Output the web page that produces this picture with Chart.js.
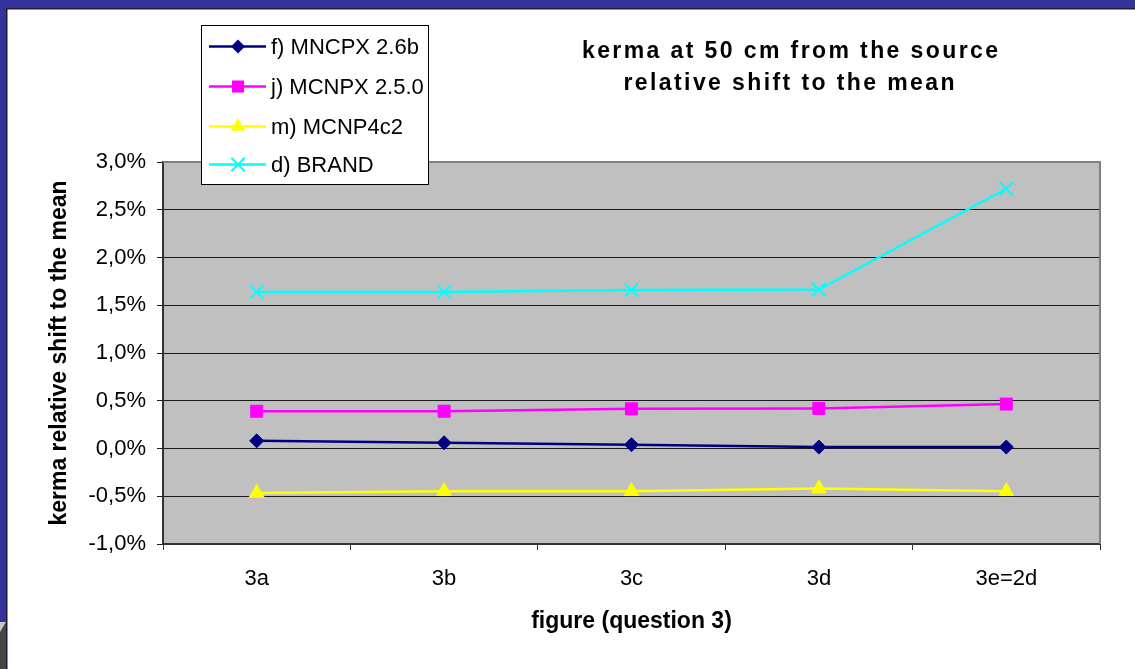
<!DOCTYPE html>
<html><head><meta charset="utf-8">
<script src="https://cdn.jsdelivr.net/npm/chart.js@4.4.0/dist/chart.umd.min.js"></script>
<style>html,body{margin:0;padding:0;background:#fff;} #wrap{position:relative;width:1135px;height:669px;} canvas{display:block;}</style>
</head><body><div id="wrap"><canvas id="c" width="1135" height="669"></canvas></div>
<script>
const categories = ['3a', '3b', '3c', '3d', '3e=2d'];
const mncpx26b = [0.08, 0.06, 0.04, 0.015, 0.015];
const mcnpx250 = [0.39, 0.39, 0.415, 0.42, 0.465];
const mcnp4c2 = [-0.465, -0.448, -0.448, -0.42, -0.448];
const brand = [1.64, 1.64, 1.66, 1.665, 2.72];
const seriesNames = ['f) MNCPX 2.6b', 'j) MCNPX 2.5.0', 'm) MCNP4c2', 'd) BRAND'];
const titleLines = ['kerma at 50 cm from the source', 'relative shift to the mean'];
const yTitle = 'kerma relative shift to the mean';
const xTitle = 'figure (question 3)';
const yMin = -1, yMax = 3, yStep = 0.5;

const F = "'Liberation Sans', Arial, sans-serif";

function drawMarker(ctx, style, r, x, y, color, bw) {
  ctx.save();
  ctx.fillStyle = color; ctx.strokeStyle = color; ctx.lineWidth = bw;
  ctx.beginPath();
  if (style === 'rectRot') {
    ctx.moveTo(x, y - r); ctx.lineTo(x + r, y); ctx.lineTo(x, y + r); ctx.lineTo(x - r, y); ctx.closePath(); ctx.fill();
  } else if (style === 'rect') {
    const s = r * Math.SQRT1_2; ctx.rect(x - s, y - s, 2 * s, 2 * s); ctx.fill();
  } else if (style === 'triangle') {
    ctx.moveTo(x, y - r); ctx.lineTo(x + r * Math.cos(Math.PI / 6), y + r / 2); ctx.lineTo(x - r * Math.cos(Math.PI / 6), y + r / 2); ctx.closePath(); ctx.fill();
  } else if (style === 'crossRot') {
    const o = r * Math.SQRT1_2;
    ctx.moveTo(x - o, y - o); ctx.lineTo(x + o, y + o); ctx.moveTo(x + o, y - o); ctx.lineTo(x - o, y + o); ctx.stroke();
  }
  ctx.restore();
}

const framePlugin = {
  id: 'frame',
  beforeDraw(chart) {
    const ctx = chart.ctx, a = chart.chartArea;
    ctx.save();
    ctx.fillStyle = '#ffffff'; ctx.fillRect(0, 0, chart.width, chart.height);
    ctx.fillStyle = '#333399';
    ctx.fillRect(0, 0, chart.width, 8);
    ctx.fillRect(0, 0, 6, chart.height);
    ctx.fillStyle = '#1c1c3a';
    ctx.fillRect(6, 8, chart.width - 6, 1.5);
    ctx.fillRect(6, 8, 1.5, chart.height - 8);
    ctx.fillStyle = '#454545';
    ctx.fillRect(0, 626, 6, chart.height - 626);
    ctx.fillStyle = '#c8c8c8';
    ctx.beginPath(); ctx.moveTo(0, 622); ctx.lineTo(6, 622); ctx.lineTo(0, 632); ctx.closePath(); ctx.fill();
    ctx.fillStyle = '#c0c0c0';
    ctx.fillRect(a.left, a.top, a.right - a.left, a.bottom - a.top);
    ctx.restore();
  },
  beforeDatasetsDraw(chart) {
    const ctx = chart.ctx, a = chart.chartArea;
    ctx.save();
    ctx.strokeStyle = '#808080'; ctx.lineWidth = 2;
    ctx.beginPath();
    ctx.moveTo(a.left, a.top); ctx.lineTo(a.right, a.top); ctx.lineTo(a.right, a.bottom);
    ctx.stroke();
    ctx.restore();
  },
  afterDraw(chart) {
    const ctx = chart.ctx;
    ctx.save();
    // title
    ctx.fillStyle = '#000';
    ctx.font = "bold 23px " + F;
    ctx.textAlign = 'center'; ctx.textBaseline = 'alphabetic';
    const ls = 2.4;
    if ('letterSpacing' in ctx) ctx.letterSpacing = ls + 'px';
    ctx.fillText(titleLines[0], 790 + ls / 2, 58);
    ctx.fillText(titleLines[1], 789 + ls / 2, 90);
    if ('letterSpacing' in ctx) ctx.letterSpacing = '0px';
    // legend
    ctx.fillStyle = '#fff';
    ctx.fillRect(201, 25, 227, 159);
    ctx.strokeStyle = '#000'; ctx.lineWidth = 1;
    ctx.strokeRect(201.5, 25.5, 227, 159);
    const rows = [46.5, 86.5, 126.5, 164.5];
    chart.data.datasets.forEach((ds, i) => {
      const y = rows[i];
      ctx.strokeStyle = ds.borderColor; ctx.lineWidth = ds.borderWidth;
      ctx.beginPath(); ctx.moveTo(209, y); ctx.lineTo(266, y); ctx.stroke();
      drawMarker(ctx, ds.pointStyle, ds.pointRadius, 238, y, ds.pointBackgroundColor, ds.pointBorderWidth);
      ctx.fillStyle = '#000';
      ctx.font = "22px " + F;
      ctx.textAlign = 'left'; ctx.textBaseline = 'middle';
      ctx.fillText(ds.label, 271, y + 1);
    });
    ctx.restore();
  }
};

const mk = (label, data, color, style, r, pbw) => ({
  label, data,
  borderColor: color, backgroundColor: color,
  borderWidth: 2.5,
  pointStyle: style, pointRadius: r, pointHoverRadius: r,
  pointBackgroundColor: color, pointBorderColor: color, pointBorderWidth: pbw,
  tension: 0, fill: false
});

new Chart(document.getElementById('c'), {
  type: 'line',
  data: {
    labels: categories,
    datasets: [
      mk(seriesNames[0], mncpx26b, '#000080', 'rectRot', 7, 1),
      mk(seriesNames[1], mcnpx250, '#ff00ff', 'rect', 8.5, 1),
      mk(seriesNames[2], mcnp4c2, '#ffff00', 'triangle', 8.5, 1),
      mk(seriesNames[3], brand, '#00ffff', 'crossRot', 9.5, 2)
    ]
  },
  options: {
    responsive: false,
    animation: false,
    layout: { padding: { left: 42, top: 162, right: 35, bottom: 30 } },
    plugins: { legend: { display: false }, title: { display: false }, tooltip: { enabled: false } },
    scales: {
      x: {
        offset: true,
        afterFit(s) { s.height = 95; },
        ticks: { font: { family: F, size: 22 }, color: '#000', padding: 16, maxRotation: 0, autoSkip: false },
        grid: { drawOnChartArea: false, drawTicks: true, tickLength: 6, color: '#333', offset: true },
        border: { color: '#333', width: 2 },
        title: { display: true, text: xTitle, font: { family: F, size: 23, weight: 'bold' }, color: '#000', padding: { top: 4, bottom: 4 } }
      },
      y: {
        min: yMin, max: yMax,
        afterFit(s) { s.width = 121; },
        ticks: { stepSize: yStep, font: { family: F, size: 22 }, color: '#000', padding: 11,
                 callback: v => Number(v).toFixed(1).replace('.', ',') + '%' },
        grid: { color: '#1a1a1a', lineWidth: 1, tickLength: 6, drawTicks: true },
        border: { color: '#333', width: 2 },
        title: { display: true, text: yTitle, font: { family: F, size: 23, weight: 'bold' }, color: '#000', padding: { top: 4, bottom: 4 } }
      }
    }
  },
  plugins: [framePlugin]
});
</script>
</body></html>
